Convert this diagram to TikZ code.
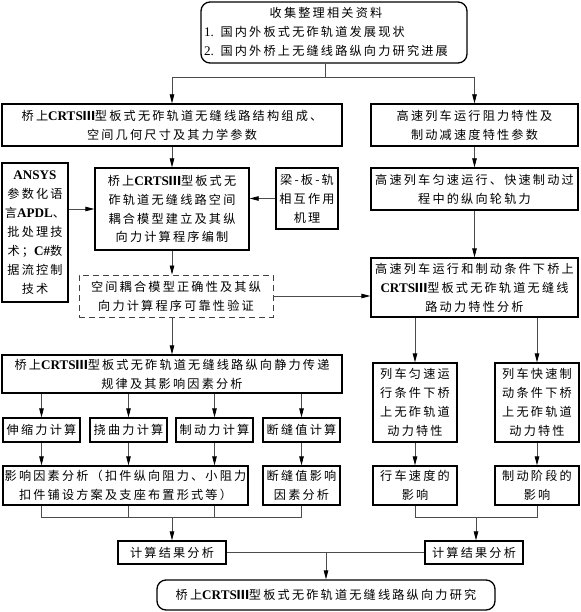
\documentclass[tikz,border=0pt]{standalone}
\usepackage{fontspec}
\setmainfont{Liberation Serif}
\newfontfamily\cjk[LetterSpace=18]{Noto Sans CJK SC}
\newfontfamily\lat{Liberation Serif}
\usetikzlibrary{arrows.meta}
\newcommand\LT[1]{{\lat\fontsize{13.2}{19}\selectfont #1}}
\newcommand\LB[1]{{\lat\bfseries\fontsize{13.2}{19}\selectfont #1}}
\newcommand\CR{\LB{CRTS}{\cjk\bfseries Ⅲ}}
\tikzset{
  box/.style={draw=black, line width=1.3bp, inner sep=0pt, align=center,
    font=\fontsize{12.2}{19}\cjk},
  dbox/.style={box, draw=black!75, line width=0.9bp, dash pattern=on 6bp off 4bp},
  conn/.style={draw=black!70, line width=0.8bp},
  arr/.style={conn, -{Triangle[length=9bp,width=4.5bp,color=black]}},
}
\begin{document}
\begin{tikzpicture}[x=1bp,y=-1bp]
\fill[white] (0,0) rectangle (581,612);
\useasboundingbox (0,0) rectangle (581,612);
% nodes
\node[box, rounded corners=9bp, minimum width=266bp, minimum height=61bp] (top) at (334,32.5)
  {\begin{tabular}{@{}l@{}}\multicolumn{1}{@{}c@{}}{收集整理相关资料}\\ \LT{1.} 国内外板式无砟轨道发展现状\\ \LT{2.} 国内外桥上无缝线路纵向力研究进展\end{tabular}\hspace*{16bp}};
\node[box, minimum width=340bp, minimum height=42bp] (A) at (172,125)
  {桥上\CR 型板式无砟轨道无缝线路结构组成、\\空间几何尺寸及其力学参数};
\node[box, minimum width=207bp, minimum height=42bp] (B) at (474.5,125)
  {高速列车运行阻力特性及\\制动减速度特性参数};
\node[box, minimum width=66bp, minimum height=139bp] (ansys) at (35,232.5)
  {\LB{ANSYS}\\参数化语\\言\LB{APDL}、\\批处理技\\术；\LB{C\#}数\\据流控制\\技术};
\node[box, minimum width=154bp, minimum height=82bp] (mid) at (172,209)
  {桥上\CR 型板式无\\砟轨道无缝线路空间\\耦合模型建立及其纵\\向力计算程序编制};
\node[box, minimum width=62bp, minimum height=61bp] (liang) at (307,198.5)
  {梁-板-轨\\相互作用\\机理};
\node[box, minimum width=207bp, minimum height=42bp] (yun) at (474.5,189)
  {高速列车匀速运行、快速制动过\\程中的纵向轮轨力};
\node[dbox, minimum width=194bp, minimum height=42bp] (dashed) at (176,296)
  {空间耦合模型正确性及其纵\\向力计算程序可靠性验证};
\node[box, minimum width=207bp, minimum height=59bp] (dyn) at (474.5,287.5)
  {高速列车运行和制动条件下桥上\\\CR 型板式无砟轨道无缝线\\路动力特性分析};
\node[box, minimum width=340bp, minimum height=38bp] (static) at (172,374)
  {桥上\CR 型板式无砟轨道无缝线路纵向静力传递\\规律及其影响因素分析};
\node[box, minimum width=77bp, minimum height=24bp] (s1) at (41.5,430) {伸缩力计算};
\node[box, minimum width=77bp, minimum height=24bp] (s2) at (128.5,430) {挠曲力计算};
\node[box, minimum width=77bp, minimum height=24bp] (s3) at (214.5,430) {制动力计算};
\node[box, minimum width=77bp, minimum height=24bp] (s4) at (301.5,430) {断缝值计算};
\node[box, minimum width=245bp, minimum height=39bp] (inf) at (125.5,485.5)
  {影响因素分析（扣件纵向阻力、小阻力\\扣件铺设方案及支座布置形式等）};
\node[box, minimum width=77bp, minimum height=39bp] (d2) at (301.5,485.5)
  {断缝值影响\\因素分析};
\node[box, minimum width=84bp, minimum height=79bp] (u1) at (415,402.5)
  {列车匀速运\\行条件下桥\\上无砟轨道\\动力特性};
\node[box, minimum width=84bp, minimum height=79bp] (u2) at (537,402.5)
  {列车快速制\\动条件下桥\\上无砟轨道\\动力特性};
\node[box, minimum width=84bp, minimum height=39bp] (v1) at (415,485.5)
  {行车速度的\\影响};
\node[box, minimum width=84bp, minimum height=39bp] (v2) at (537,485.5)
  {制动阶段的\\影响};
\node[box, minimum width=108bp, minimum height=23bp] (lres) at (172,552.5) {计算结果分析};
\node[box, minimum width=98bp, minimum height=23bp] (rres) at (474,552.5) {计算结果分析};
\node[box, rounded corners=9bp, minimum width=338bp, minimum height=30bp] (bottom) at (326,595)
  {桥上\CR 型板式无砟轨道无缝线路纵向力研究};
% connectors
\coordinate (tb) at (325,77);
\coordinate (bl) at (0,517);
\coordinate (br) at (476,517);
\draw[conn] (top.south -| tb) -- (tb);
\draw[conn] (A.north |- tb) -- (B.north |- tb);
\draw[arr] (A.north |- tb) -- (A.north);
\draw[arr] (B.north |- tb) -- (B.north);
\draw[arr] (A.south) -- (mid.north);
\draw[arr] (B.south) -- (yun.north);
\draw[arr] (yun.south) -- (dyn.north);
\draw[arr] (ansys.east |- mid.west) -- (mid.west);
\draw[arr] (liang.west) -- (liang.west -| mid.east);
\draw[arr] (mid.south) -- (mid.south |- dashed.north);
\draw[arr] (dashed.east) -- (dashed.east -| dyn.west);
\draw[arr] (mid.south |- dashed.south) -- (static.north);
\foreach \s in {s1,s2,s3,s4} \draw[arr] (static.south -| \s.north) -- (\s.north);
\foreach \s in {s1,s2,s3} \draw[arr] (\s.south) -- (\s.south |- inf.north);
\draw[arr] (s4.south) -- (d2.north);
\draw[arr] (dyn.south -| u1.north) -- (u1.north);
\draw[arr] (dyn.south -| u2.north) -- (u2.north);
\draw[arr] (u1.south) -- (v1.north);
\draw[arr] (u2.south) -- (v2.north);
\draw[conn] (inf.south -| s1.south) -- (s1.south |- bl) -- (s4.south |- bl) -- (d2.south);
\draw[conn] (inf.south -| s2.south) -- (s2.south |- bl);
\draw[conn] (inf.south -| s3.south) -- (s3.south |- bl);
\draw[arr] (lres.north |- bl) -- (lres.north);
\draw[conn] (v1.south) -- (v1.south |- bl) -- (v2.south |- bl) -- (v2.south);
\draw[arr] (br) -- (br |- rres.north);
\draw[conn] (lres.east) -- (rres.west);
\draw[arr] (lres.east -| bottom.north) -- (bottom.north);
\end{tikzpicture}
\end{document}
